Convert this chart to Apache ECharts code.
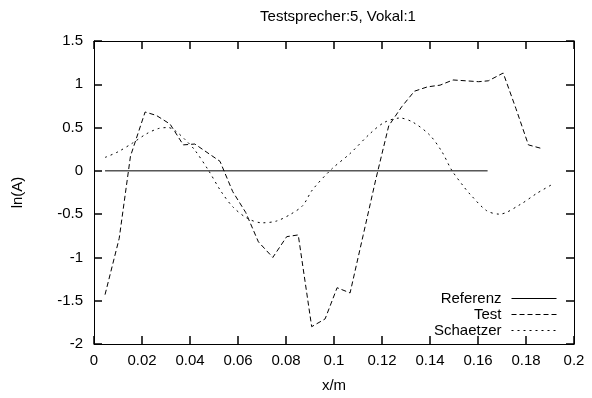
<!DOCTYPE html>
<html>
<head>
<meta charset="utf-8">
<script src="https://cdn.jsdelivr.net/npm/echarts@6/dist/echarts.min.js"></script>
<style>html,body{margin:0;padding:0;background:#fff}#c{width:592px;height:398px}</style>
</head>
<body>
<div id="c"></div>
<script>
var titleText = 'Testsprecher:5, Vokal:1';
var seriesNames = ['Referenz', 'Test', 'Schaetzer'];
var xTicks = { min: 0, max: 0.2, interval: 0.02 };
var yTicks = { min: -2, max: 1.5, interval: 0.5 };

var referenz = [[0.0046, 0], [0.164, 0]];

var test = [
  [0.0046, -1.43], [0.0105, -0.78], [0.0152, 0.17], [0.0213, 0.68], [0.026, 0.64],
  [0.0317, 0.54], [0.0372, 0.30], [0.042, 0.31], [0.0525, 0.11], [0.0578, -0.24],
  [0.0632, -0.48], [0.0685, -0.82], [0.0745, -1.0], [0.0803, -0.76], [0.0851, -0.74],
  [0.0907, -1.8], [0.0963, -1.71], [0.1013, -1.35], [0.1067, -1.41], [0.1121, -0.75],
  [0.1174, -0.1], [0.1228, 0.52], [0.1282, 0.74], [0.1335, 0.92], [0.1389, 0.97],
  [0.1442, 0.99], [0.1496, 1.05], [0.155, 1.04], [0.1603, 1.03], [0.1643, 1.04],
  [0.1705, 1.13], [0.1758, 0.72], [0.181, 0.30], [0.1863, 0.26]
];

var schaetzer = [
  [0.0046, 0.155], [0.01, 0.22], [0.016, 0.32], [0.022, 0.43], [0.027, 0.49],
  [0.031, 0.50], [0.034, 0.46], [0.038, 0.36], [0.042, 0.24], [0.0476, 0.01],
  [0.053, -0.24], [0.058, -0.42], [0.064, -0.55], [0.07, -0.60], [0.076, -0.58],
  [0.082, -0.50], [0.087, -0.40], [0.091, -0.22], [0.099, 0.02], [0.1067, 0.2],
  [0.115, 0.43], [0.121, 0.56], [0.1275, 0.61], [0.133, 0.56], [0.14, 0.41],
  [0.145, 0.22], [0.149, 0.01], [0.154, -0.18], [0.1567, -0.27], [0.1636, -0.46],
  [0.169, -0.50], [0.1775, -0.39], [0.1845, -0.26], [0.1907, -0.16]
];

var font = 'Liberation Sans, Arial, Helvetica, sans-serif';
var fs = 15;
var chart = echarts.init(document.getElementById('c'), null, { renderer: 'canvas' });

function xAxisDef(pos, show) {
  return {
    type: 'value', position: pos, min: xTicks.min, max: xTicks.max, interval: xTicks.interval,
    name: show ? 'x/m' : '', nameLocation: 'middle', nameGap: 34,
    nameTextStyle: { color: '#000', fontFamily: font, fontSize: fs },
    axisLine: { show: true, onZero: false, lineStyle: { color: '#000', width: 1 } },
    axisTick: { show: true, inside: true, length: 8, lineStyle: { color: '#000', width: 1.5 } },
    axisLabel: { show: show, color: '#000', fontFamily: font, fontSize: fs, margin: 9 },
    splitLine: { show: false }
  };
}
function yAxisDef(pos, show) {
  return {
    type: 'value', position: pos, min: yTicks.min, max: yTicks.max, interval: yTicks.interval,
    name: show ? 'ln(A)' : '', nameLocation: 'middle', nameGap: 69,
    nameTextStyle: { color: '#000', fontFamily: font, fontSize: fs },
    axisLine: { show: true, onZero: false, lineStyle: { color: '#000', width: 1 } },
    axisTick: { show: true, inside: true, length: 8, lineStyle: { color: '#000', width: 1.5 } },
    axisLabel: { show: show, color: '#000', fontFamily: font, fontSize: fs, margin: 11 },
    splitLine: { show: false }
  };
}
function legendDef(name, top) {
  return {
    data: [name], right: 35, top: top, align: 'right', orient: 'vertical',
    itemWidth: 45, itemHeight: 10, padding: 0,
    itemStyle: { opacity: 0 },
    lineStyle: { width: 1, color: '#000' },
    textStyle: { color: '#000', fontFamily: font, fontSize: fs, padding: [0, 5, 0, 0] },
    selectedMode: false
  };
}

chart.setOption({
  animation: false,
  backgroundColor: '#fff',
  title: {
    text: titleText, left: 333, top: 4, textAlign: 'center',
    textStyle: { color: '#000', fontFamily: font, fontSize: 15, fontWeight: 'normal' }
  },
  grid: { left: 94, right: 18, top: 41, bottom: 50 },
  xAxis: [xAxisDef('bottom', true), xAxisDef('top', false)],
  yAxis: [yAxisDef('left', true), yAxisDef('right', false)],
  legend: [legendDef(seriesNames[0], 291), legendDef(seriesNames[1], 307), legendDef(seriesNames[2], 323)],
  series: [
    { name: seriesNames[0], type: 'line', data: referenz, showSymbol: false, symbol: 'none',
      lineStyle: { color: '#000', width: 1, type: 'solid' }, itemStyle: { color: '#000' } },
    { name: seriesNames[1], type: 'line', data: test, showSymbol: false, symbol: 'none',
      lineStyle: { color: '#000', width: 1, type: [5, 3] }, itemStyle: { color: '#000' } },
    { name: seriesNames[2], type: 'line', data: schaetzer, showSymbol: false, symbol: 'none', smooth: 0.3,
      lineStyle: { color: '#000', width: 1, type: [2, 4] }, itemStyle: { color: '#000' } }
  ]
});
</script>
</body>
</html>
